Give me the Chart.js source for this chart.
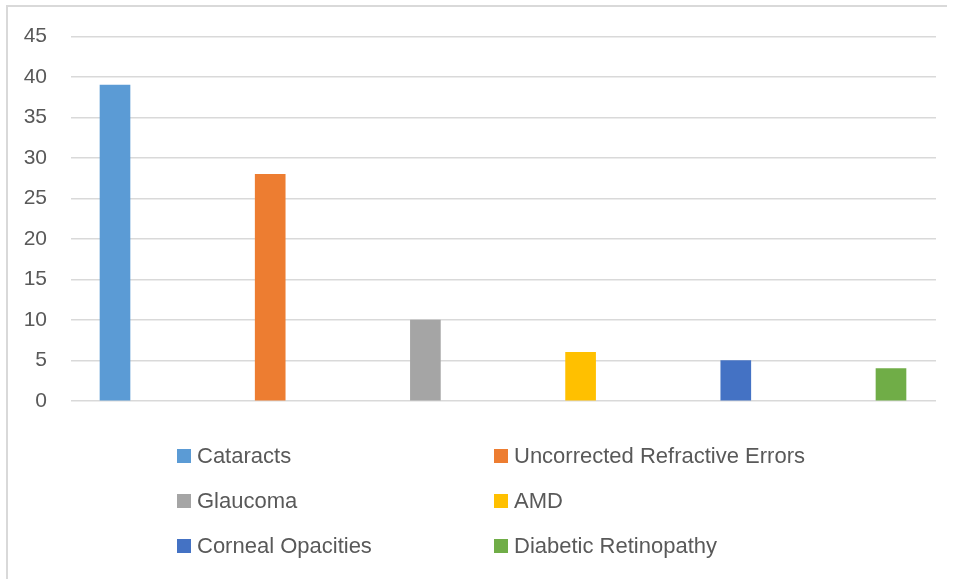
<!DOCTYPE html>
<html lang="en">
<head>
    <meta charset="UTF-8">
    <title>Causes of visual impairment</title>
    <script src="https://cdn.jsdelivr.net/npm/chart.js"></script>
    <style>
        body {
            margin: 0;
            background: #ffffff;
        }
        .chart-box {
            position: relative;
            width: 954px;
            height: 579px;
            overflow: hidden;
        }
        .frame {
            position: absolute;
            left: 6px;
            top: 5px;
            width: 939px;
            height: 1200px;
            border-left: 2px solid #d9d9d9;
            border-top: 2px solid #d9d9d9;
            pointer-events: none;
        }
    </style>
</head>
<body>
    <div class="chart-box">
        <canvas id="causesChart" width="954" height="579"></canvas>
        <div class="frame"></div>
    </div>

    <script>
        // Причины и доли (%)
        const causes = ['Cataracts', 'Uncorrected Refractive Errors', 'Glaucoma', 'AMD', 'Corneal Opacities', 'Diabetic Retinopathy'];
        const shares = [39, 28, 10, 6, 5, 4];
        const colors = ['#5B9BD5', '#ED7D31', '#A5A5A5', '#FFC000', '#4472C4', '#70AD47'];
        const yTicks = [0, 5, 10, 15, 20, 25, 30, 35, 40, 45];

        const textColor = '#595959';
        const fontFamily = '"Liberation Sans", Arial, sans-serif';

        // Легенда в две колонки под графиком
        const twoColumnLegend = {
            id: 'twoColumnLegend',
            afterDraw(chart) {
                const ctx = chart.ctx;
                const colX = [177, 494];
                const rowY = [456, 501, 546];
                const box = 14;
                ctx.save();
                ctx.font = '22px ' + fontFamily;
                ctx.textBaseline = 'middle';
                ctx.textAlign = 'left';
                causes.forEach((name, i) => {
                    const x = colX[i % 2];
                    const y = rowY[Math.floor(i / 2)];
                    ctx.fillStyle = colors[i];
                    ctx.fillRect(x, y - box / 2, box, box);
                    ctx.fillStyle = textColor;
                    ctx.fillText(name, x + box + 6, y + 1);
                });
                ctx.restore();
            }
        };

        new Chart(document.getElementById('causesChart'), {
            type: 'bar',
            data: {
                labels: causes,
                datasets: [{
                    label: 'Share',
                    data: shares.map((v, i) => ({ x: i, y: v })),
                    backgroundColor: colors,
                    borderWidth: 0,
                    barThickness: 30
                }]
            },
            options: {
                responsive: false,
                animation: false,
                layout: {
                    padding: { left: 0, right: 18, top: 36, bottom: 178 }
                },
                scales: {
                    x: {
                        type: 'linear',
                        display: false,
                        offset: false,
                        min: -0.2835,
                        max: 5.29,
                        grid: { display: false, offset: false }
                    },
                    y: {
                        min: 0,
                        max: 45,
                        afterFit(scale) { scale.width = 71; },
                        afterBuildTicks(scale) {
                            scale.ticks = yTicks.map(v => ({ value: v }));
                        },
                        border: { display: false },
                        grid: {
                            color: '#d9d9d9',
                            lineWidth: 1.5,
                            drawTicks: false
                        },
                        ticks: {
                            padding: 24,
                            color: textColor,
                            font: { size: 21, family: fontFamily }
                        }
                    }
                },
                plugins: {
                    legend: { display: false },
                    tooltip: { enabled: false }
                }
            },
            plugins: [twoColumnLegend]
        });
    </script>
</body>
</html>
